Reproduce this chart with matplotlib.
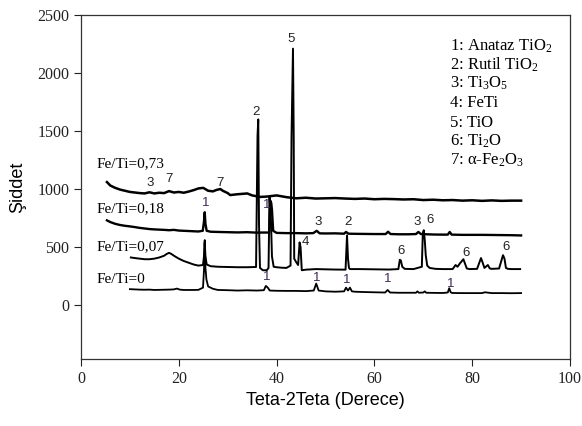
import matplotlib
matplotlib.use("Agg")
import matplotlib.pyplot as plt

plt.rcParams['mathtext.fontset'] = 'custom'
plt.rcParams['mathtext.rm'] = 'Liberation Serif'
plt.rcParams['mathtext.it'] = 'Liberation Serif:italic'

# --- data (2theta, intensity incl. stacking offset) ---
x_073 = [5.3, 6, 7, 8, 9, 10, 11, 12, 13, 14, 15, 16, 17, 18, 19, 20, 21, 22, 23, 24,
         25, 26, 27, 27.7, 28.5, 29, 30, 30.5, 32, 34, 35, 36.6, 38, 40, 42, 44, 46, 48,
         50, 52, 54, 56, 58, 60, 62, 64, 66, 68, 70, 72, 74, 76, 78, 80, 82, 84, 86, 88, 90]
y_073 = [1060, 1030, 1010, 995, 985, 975, 970, 965, 962, 972, 962, 968, 965, 982, 970, 975, 968, 978, 990, 1005,
         1010, 985, 980, 992, 1000, 985, 965, 948, 955, 962, 945, 932, 935, 945, 930, 920, 925, 918,
         920, 922, 918, 915, 918, 912, 915, 913, 910, 912, 905, 908, 903, 905, 900, 903, 898, 902, 898, 900, 900]

x_018 = [5.3, 6, 7, 8, 9, 10, 11, 12, 13, 14, 15, 16, 17, 18, 19, 20, 21, 22, 23, 24,
         24.9, 25.15, 25.3, 25.45, 25.7, 26.5, 28, 30, 32, 34, 36, 37, 38.5, 38.7, 38.9, 39.05, 39.3,
         40, 42, 44, 46, 47.5, 48.2, 48.8, 50, 52, 53.8, 54.2, 54.7, 56, 58, 60, 62.3, 62.8, 63.3,
         65, 67, 68.5, 69, 69.5, 72, 74, 75, 75.4, 75.8, 78, 80, 82, 84, 86, 88, 90]
y_018 = [730, 715, 700, 690, 683, 678, 672, 665, 660, 655, 652, 650, 648, 645, 648, 642, 640, 638, 636, 634,
         640, 720, 800, 700, 640, 632, 630, 628, 626, 628, 624, 625, 625, 900, 880, 820, 640,
         622, 620, 620, 618, 620, 640, 618, 617, 618, 615, 630, 615, 614, 613, 612, 612, 632, 612,
         610, 610, 612, 630, 612, 608, 607, 607, 630, 607, 605, 605, 605, 604, 603, 602, 600]

x_007 = [10.2, 11, 12, 13, 14, 15, 16, 17, 17.5, 18, 18.5, 19, 20, 21, 22, 23, 24, 24.95, 25.15,
         25.3, 25.45, 25.7, 26.5, 28, 30, 32, 34, 35.8, 35.95, 36.1, 36.25, 36.4, 36.6, 37.2, 38.0,
         38.35, 38.55, 38.85, 39.05, 39.4, 40, 41, 42, 42.85, 43.05, 43.35, 43.5, 43.6, 44.0, 44.4,
         44.7, 44.9, 45.15, 46, 48, 50, 52, 54.1, 54.4, 54.6, 54.8, 55, 57, 60, 63, 64.9, 65.2, 65.4,
         65.7, 66.2, 68, 69.7, 69.9, 70.1, 70.3, 70.5, 70.8, 71.3, 72.5, 74, 76, 76.6, 77.0, 77.5,
         78.2, 78.5, 78.9, 79.5, 81, 81.8, 82.1, 82.5, 83.2, 83.6, 84, 85.5, 86.3, 86.6, 86.9, 87.3,
         88, 89.8]
y_007 = [410, 405, 400, 395, 395, 400, 410, 425, 440, 450, 440, 425, 400, 380, 365, 350, 340, 345, 420,
         540, 420, 350, 335, 330, 328, 326, 326, 328, 900, 1460, 1600, 700, 320, 300, 300,
         320, 930, 720, 420, 330, 326, 322, 320, 340, 1440, 2210, 1450, 400, 370, 345,
         540, 500, 300, 305, 310, 308, 306, 305, 600, 400, 320, 310, 310, 308, 306, 310, 390, 385,
         330, 312, 310, 330, 620, 645, 560, 430, 340, 320, 312, 310, 310, 345, 330, 360,
         395, 360, 315, 310, 312, 405, 370, 320, 345, 315, 312, 315, 430, 400, 320, 312,
         310, 310]

x_000 = [10, 11, 12, 13, 14, 15, 16, 17, 18, 19, 19.6, 20.2, 21, 22, 23, 24, 24.95, 25.15, 25.3,
         25.45, 25.65, 26, 27, 28, 30, 32, 34, 36, 37.4, 37.8, 38.2, 38.6, 40, 42, 44, 46, 47.6,
         48.1, 48.6, 50, 52, 53.8, 54.2, 54.6, 55, 55.4, 56, 58, 60, 62.2, 62.7, 63.2, 65, 68.5,
         68.8, 69.1, 70, 70.3, 70.6, 72, 74, 75, 75.3, 75.6, 75.9, 78, 80, 82, 82.6, 84, 86, 88, 90]
y_000 = [137, 135, 133, 132, 133, 130, 131, 132, 133, 135, 142, 133, 130, 130, 130, 131, 150, 300, 560,
         320, 220, 160, 140, 130, 128, 125, 127, 125, 128, 165, 150, 125, 123, 122, 122, 120, 125,
         185, 125, 118, 115, 118, 150, 125, 150, 118, 115, 112, 110, 108, 130, 108, 106, 106,
         118, 106, 108, 118, 106, 105, 104, 108, 145, 110, 104, 103, 103, 103, 110, 103, 103, 102, 103]

curve_names = ["Fe/Ti=0,73", "Fe/Ti=0,18", "Fe/Ti=0,07", "Fe/Ti=0"]
curve_name_y = [1220, 833, 507, 223]

phase_labels = [r"1: Anataz TiO$_\mathregular{2}$", r"2: Rutil TiO$_\mathregular{2}$",
                r"3: Ti$_\mathregular{3}$O$_\mathregular{5}$", "4: FeTi", "5: TiO",
                r"6: Ti$_\mathregular{2}$O", r"7: α-Fe$_\mathregular{2}$O$_\mathregular{3}$"]
phase_y = [2234, 2070, 1907, 1744, 1572, 1409, 1246]

# peak markers: (2theta, y, label)
peak_x = [25.4, 38.0, 38.0, 48.2, 54.3, 62.8, 75.6, 35.7, 43.05, 48.5, 54.6, 45.8,
          68.7, 71.4, 65.4, 78.7, 86.9, 14.1, 18.0, 28.4]
peak_y = [876, 860, 240, 232, 215, 223, 180, 1660, 2294, 713, 713, 545,
          713, 730, 467, 447, 498, 1048, 1090, 1056]
peak_s = ["1", "1", "1", "1", "1", "1", "1", "2", "5", "3", "2", "4",
          "3", "6", "6", "6", "6", "3", "7", "7"]

fig = plt.figure(figsize=(5.82, 4.26), dpi=100)
ax = fig.add_axes([81 / 582, 1 - 359 / 426, (570 - 81) / 582, (359 - 15) / 426])

ax.plot(x_073, y_073, color='black', lw=1.8)
ax.plot(x_018, y_018, color='black', lw=1.7)
ax.plot(x_007, y_007, color='black', lw=1.4)
ax.plot(x_000, y_000, color='black', lw=1.3)

for name, yy in zip(curve_names, curve_name_y):
    ax.text(3.1, yy, name, family='Liberation Serif', fontsize=11, ha='left', va='center')

for lab, yy in zip(phase_labels, phase_y):
    ax.text(75.5, yy, lab, family='Liberation Serif', fontsize=12, ha='left', va='center')

for px, py, s in zip(peak_x, peak_y, peak_s):
    col = '#3d2856' if s == "1" else '#222222'
    ax.text(px, py, s, family='Liberation Sans', fontsize=9.5, ha='center', va='center', color=col)

ax.set_xlim(0, 100)
ax.set_ylim(-465, 2500)
ax.set_xticks(range(0, 101, 20))
ax.set_yticks(range(0, 2501, 500))
ax.tick_params(direction='out', length=5, width=0.8, labelsize=11.5, colors='#222222')
for lbl in ax.get_xticklabels() + ax.get_yticklabels():
    lbl.set_family('Liberation Serif')
for sp in ax.spines.values():
    sp.set_color('#333333')
    sp.set_linewidth(0.9)

ax.set_xlabel("Teta-2Teta (Derece)", family='Liberation Sans', fontsize=13, labelpad=4)
ax.set_ylabel("Şiddet", family='Liberation Sans', fontsize=13, labelpad=8)

fig.savefig("out.png", dpi=100)
